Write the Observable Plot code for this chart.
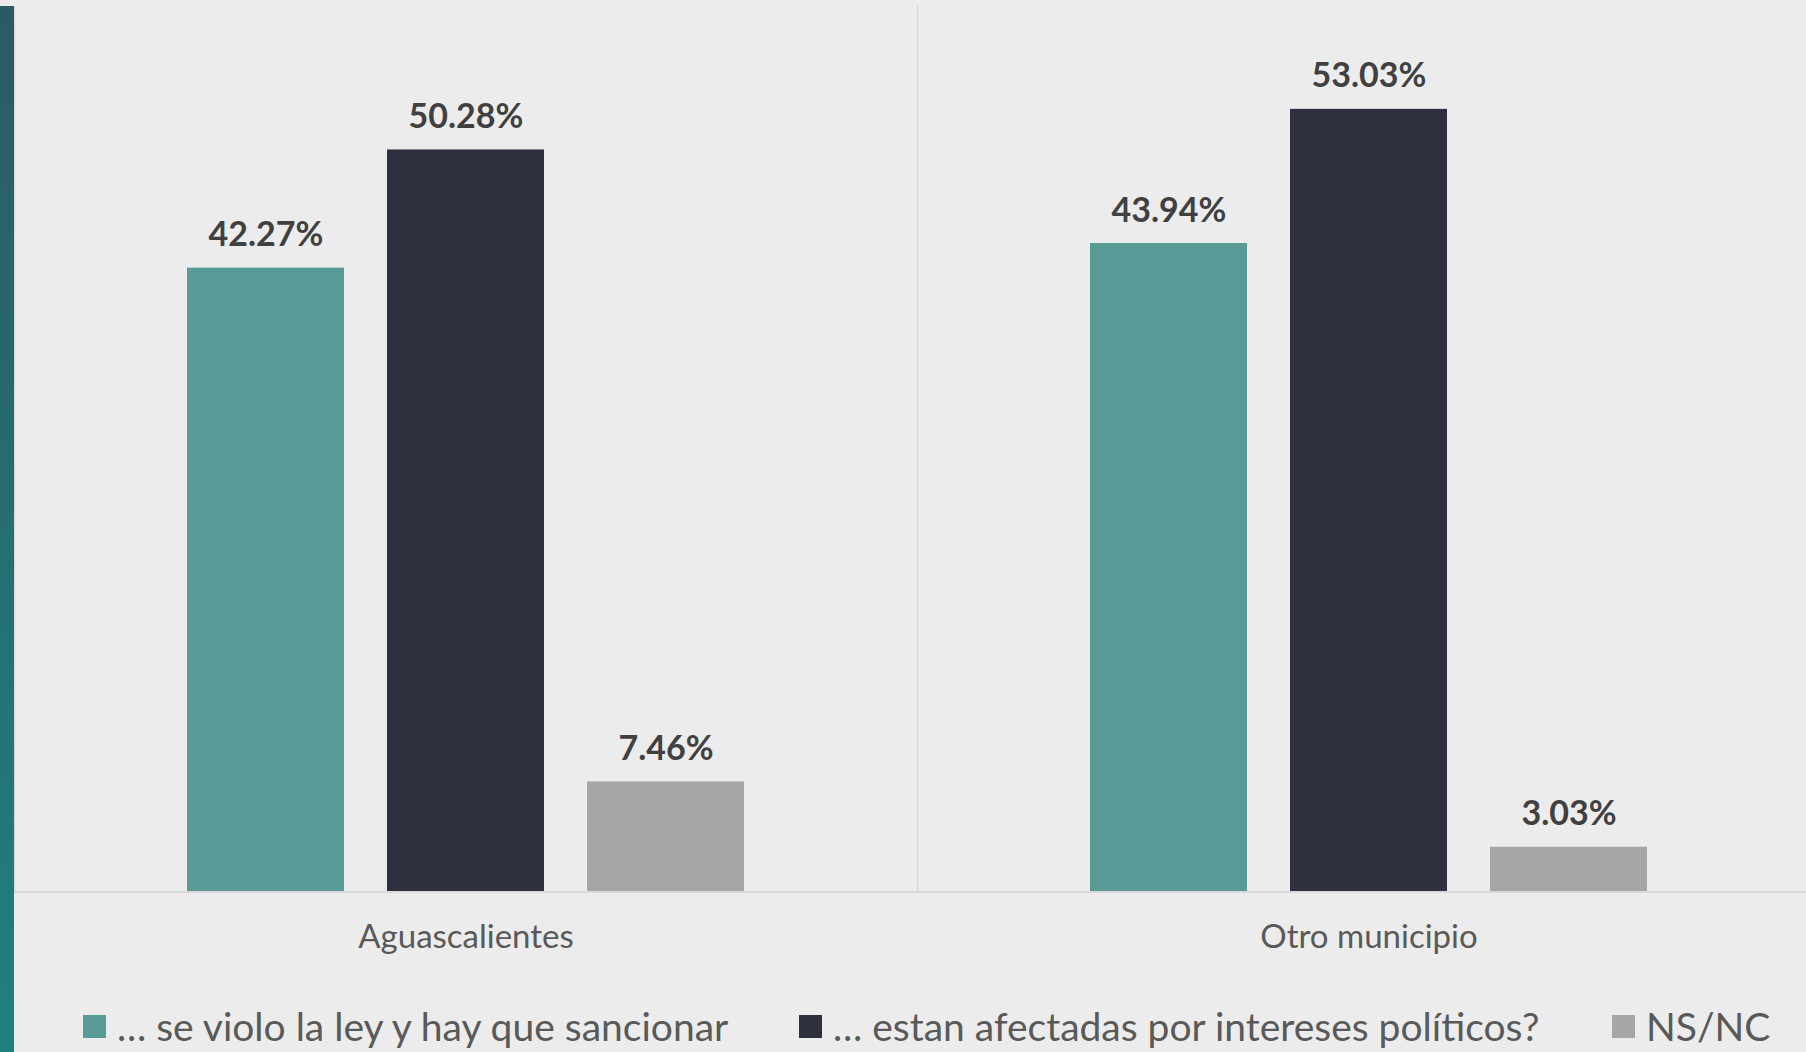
<!DOCTYPE html>
<html>
<head>
<meta charset="utf-8">
<script src="https://cdn.jsdelivr.net/npm/d3@7"></script>
<script src="https://cdn.jsdelivr.net/npm/@observablehq/plot@0.6"></script>
<style>
  html, body { margin: 0; padding: 0; background: #ececec; width: 1806px; height: 1052px; overflow: hidden; }
  #wrap { position: relative; width: 1806px; height: 1052px; }
  #leftbar { position: absolute; left: 0; top: 6px; width: 14px; height: 1046px; background: linear-gradient(#2b5b62, #1f8081); }
  #chart { position: absolute; left: 0; top: 0; }
  #legend { position: absolute; top: 1003px; left: 0; width: 1806px; font-family: Lato, sans-serif; font-size: 39px; color: #595959; white-space: nowrap; }
  .item { position: absolute; display: flex; align-items: center; }
  .sw { width: 23px; height: 23px; margin-right: 11px; }
</style>
</head>
<body>
<div id="wrap">
  <div id="chart"></div>
  <div id="leftbar"></div>
  <div id="legend"></div>
</div>
<script>
const groups = ["Aguascalientes", "Otro municipio"];
const series = ["… se violo la ley y hay que sancionar", "… estan afectadas por intereses políticos?", "NS/NC"];
const aguascalientesValues = [42.27, 50.28, 7.46];
const otroMunicipioValues = [43.94, 53.03, 3.03];
const seriesColors = ["#589a95", "#2e3040", "#a6a6a6"];
const legendLeft = [83, 799, 1612];

const valuesByGroup = [aguascalientesValues, otroMunicipioValues];
const data = groups.flatMap((g, i) => series.map((s, j) => ({group: g, series: s, value: valuesByGroup[i][j]})));

const chart = Plot.plot({
  width: 1806,
  height: 960,
  marginTop: 6,
  marginBottom: 68.5,
  marginLeft: 14,
  marginRight: -14,
  style: {background: "transparent", fontFamily: "Lato, sans-serif", overflow: "visible"},
  fx: {domain: groups, padding: 0, label: null},
  x: {domain: series, paddingInner: 0.2127, paddingOuter: 0.86, axis: null},
  y: {domain: [0, 60], axis: null},
  color: {domain: series, range: seriesColors},
  marks: [
    Plot.frame({anchor: "left", stroke: "#d9d9d9", strokeWidth: 1.5}),
    Plot.barY(data, {fx: "group", x: "series", y: "value", fill: "series"}),
    Plot.ruleY([0], {stroke: "#d9d9d9", strokeWidth: 2}),
    Plot.text(data, {fx: "group", x: "series", y: "value", text: d => d.value.toFixed(2) + "%", dy: -22, lineAnchor: "bottom", fontSize: 34, fontWeight: 700, fill: "#404040"}),
    Plot.axisFx({anchor: "bottom", tickSize: 0, tickPadding: 33, fontSize: 33, color: "#595959", label: null})
  ]
});
document.getElementById("chart").appendChild(chart);

const legend = document.getElementById("legend");
series.forEach((s, i) => {
  const item = document.createElement("div");
  item.className = "item";
  item.style.left = legendLeft[i] + "px";
  const sw = document.createElement("div");
  sw.className = "sw";
  sw.style.background = seriesColors[i];
  const t = document.createElement("span");
  t.textContent = s;
  item.appendChild(sw);
  item.appendChild(t);
  legend.appendChild(item);
});
</script>
</body>
</html>
